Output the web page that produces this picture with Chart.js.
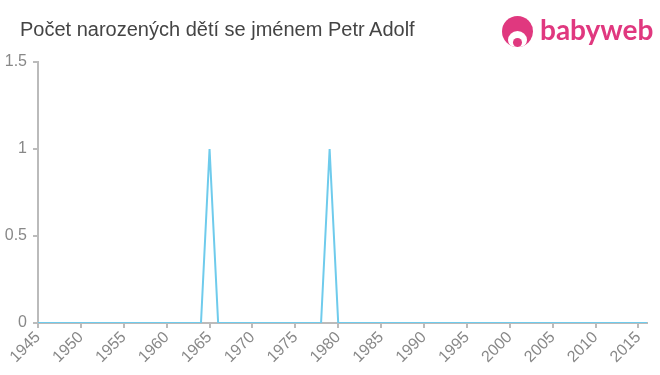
<!DOCTYPE html>
<html>
<head>
<meta charset="utf-8">
<script src="https://cdn.jsdelivr.net/npm/chart.js@4"></script>
<style>
    html, body { margin: 0; padding: 0; background: #fff; }
    #wrap { position: relative; width: 660px; height: 375px; }
    #title {
        position: absolute; left: 20px; top: 18px;
        font-family: "Liberation Sans", Arial, sans-serif; font-size: 20px; color: #444;
    }
    #logo { position: absolute; left: 501px; top: 14px; height: 36px; width: 160px; }
    #logo .head {
        position: absolute; left: 1px; top: 2px; width: 31px; height: 31px;
        border-radius: 50%; background: #e0387f; overflow: hidden;
    }
    #logo .face {
        position: absolute; left: 6px; top: 15px; width: 19px; height: 18px;
        border-radius: 50%; background: #fff;
    }
    #logo .mouth {
        position: absolute; left: 11px; top: 22px; width: 9px; height: 9px;
        border-radius: 50%; background: #e0387f;
    }
    #logo .text {
        position: absolute; left: 39px; top: -2px;
        font-family: Lato, "Open Sans", sans-serif; font-size: 28px; font-weight: 700;
        color: #e0387f;
    }
    canvas { position: absolute; left: 0; top: 0; }
</style>
</head>
<body>
<div id="wrap">
    <canvas id="chart" width="660" height="375"></canvas>
    <div id="title">Počet narozených dětí se jménem Petr Adolf</div>
    <div id="logo">
        <div class="head"><div class="face"></div><div class="mouth"></div></div>
        <div class="text">babyweb</div>
    </div>
</div>
<script>
const years = [
    1945, 1946, 1947, 1948, 1949, 1950, 1951, 1952, 1953, 1954,
    1955, 1956, 1957, 1958, 1959, 1960, 1961, 1962, 1963, 1964,
    1965, 1966, 1967, 1968, 1969, 1970, 1971, 1972, 1973, 1974,
    1975, 1976, 1977, 1978, 1979, 1980, 1981, 1982, 1983, 1984,
    1985, 1986, 1987, 1988, 1989, 1990, 1991, 1992, 1993, 1994,
    1995, 1996, 1997, 1998, 1999, 2000, 2001, 2002, 2003, 2004,
    2005, 2006, 2007, 2008, 2009, 2010, 2011, 2012, 2013, 2014,
    2015, 2016
];
const births = [
    0, 0, 0, 0, 0, 0, 0, 0, 0, 0,
    0, 0, 0, 0, 0, 0, 0, 0, 0, 0,
    1, 0, 0, 0, 0, 0, 0, 0, 0, 0,
    0, 0, 0, 0, 1, 0, 0, 0, 0, 0,
    0, 0, 0, 0, 0, 0, 0, 0, 0, 0,
    0, 0, 0, 0, 0, 0, 0, 0, 0, 0,
    0, 0, 0, 0, 0, 0, 0, 0, 0, 0,
    0, 0
];
const xTicks = [1945, 1950, 1955, 1960, 1965, 1970, 1975, 1980, 1985, 1990, 1995, 2000, 2005, 2010, 2015];
const yTicks = [0, 0.5, 1, 1.5];

const axisColor = '#bbbbbb';
const fontFamily = '"Liberation Sans", Arial, sans-serif';

const points = years.map((y, i) => ({ x: y, y: births[i] }));

const ctx = document.getElementById('chart').getContext('2d');
new Chart(ctx, {
    type: 'line',
    data: {
        datasets: [{
            data: points,
            borderColor: '#6fcbec',
            borderWidth: 2,
            pointRadius: 0,
            tension: 0,
            fill: false
        }]
    },
    options: {
        responsive: false,
        animation: false,
        layout: { padding: { left: 0, right: 13, top: 62, bottom: 0 } },
        plugins: { legend: { display: false }, tooltip: { enabled: false } },
        scales: {
            x: {
                type: 'linear',
                min: years[0],
                max: years[years.length - 1],
                afterBuildTicks: function (axis) {
                    axis.ticks = xTicks.map(v => ({ value: v }));
                },
                afterFit: function (axis) { axis.height = 52; },
                ticks: {
                    autoSkip: false,
                    maxRotation: 45,
                    minRotation: 45,
                    color: '#888',
                    font: { family: fontFamily, size: 16 },
                    padding: 0,
                    callback: v => String(v)
                },
                grid: { drawOnChartArea: false, drawTicks: true, tickLength: 5, color: axisColor, lineWidth: 2 },
                border: { color: axisColor, width: 2 }
            },
            y: {
                min: 0,
                max: 1.5,
                afterBuildTicks: function (axis) {
                    axis.ticks = yTicks.map(v => ({ value: v }));
                },
                afterFit: function (axis) { axis.width = 38; },
                ticks: { color: '#888', font: { family: fontFamily, size: 16 }, padding: 6, callback: v => String(v) },
                grid: { drawOnChartArea: false, drawTicks: true, tickLength: 5, color: axisColor, lineWidth: 2 },
                border: { color: axisColor, width: 2 }
            }
        }
    }
});
</script>
</body>
</html>
